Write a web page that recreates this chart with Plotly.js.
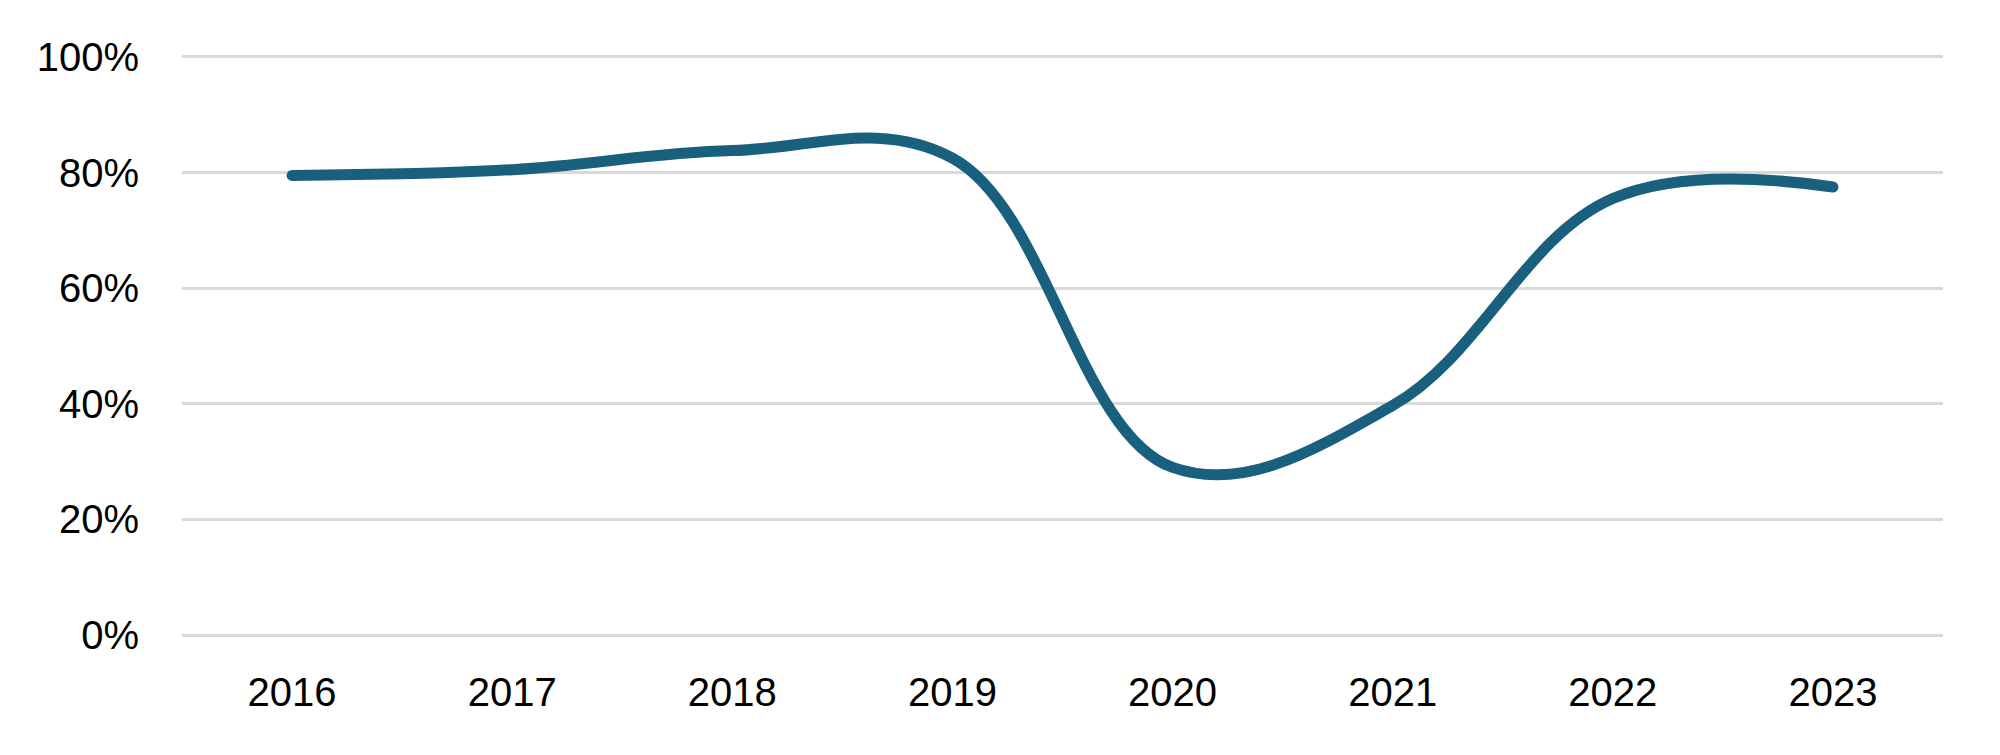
<!DOCTYPE html>
<html>
<head>
<meta charset="utf-8">
<script src="https://cdn.plot.ly/plotly-3.0.1.min.js"></script>
<style>html,body{margin:0;padding:0;background:#fff;}#chart{width:2000px;height:755px;}
#chart .js-line{stroke-linecap:round;stroke-linejoin:round;}</style>
</head>
<body>
<div id="chart"></div>
<script>
const years = ["2016", "2017", "2018", "2019", "2020", "2021", "2022", "2023"];
const shareValues = [79.5, 80.5, 83.8, 82.5, 29.0, 39.7, 75.5, 77.5];
const yTickValues = [0, 20, 40, 60, 80, 100];
const yTickLabels = ["0%", "20%", "40%", "60%", "80%", "100%"];

const trace = {
  x: years,
  y: shareValues,
  type: "scatter",
  mode: "lines",
  line: {color: "#19607f", width: 11, shape: "spline", smoothing: 1.1},
  hoverinfo: "x+y"
};

const layout = {
  width: 2000,
  height: 755,
  margin: {l: 182, r: 57, t: 54.11, b: 117.11},
  paper_bgcolor: "#ffffff",
  plot_bgcolor: "#ffffff",
  showlegend: false,
  font: {family: "Liberation Sans, Arial, sans-serif", size: 40, color: "#000000"},
  xaxis: {
    type: "category",
    range: [-0.5, 7.5],
    showgrid: false,
    zeroline: false,
    showline: false,
    ticks: "",
    ticklabelstandoff: 27,
    tickfont: {family: "Liberation Sans, Arial, sans-serif", size: 40, color: "#000000"}
  },
  yaxis: {
    range: [-0.5, 100.5],
    tickvals: yTickValues,
    ticktext: yTickLabels,
    showgrid: true,
    gridcolor: "#d9d9d9",
    gridwidth: 3,
    zeroline: false,
    showline: false,
    ticks: "",
    ticklabelstandoff: 42,
    tickfont: {family: "Liberation Sans, Arial, sans-serif", size: 40, color: "#000000"}
  }
};

Plotly.newPlot("chart", [trace], layout, {staticPlot: true, displayModeBar: false});
</script>
</body>
</html>
